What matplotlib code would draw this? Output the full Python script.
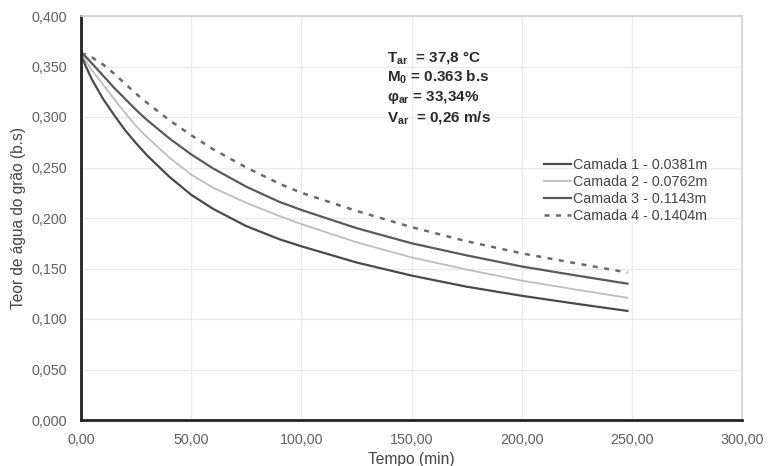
import matplotlib
matplotlib.use("Agg")
import matplotlib.pyplot as plt

plt.rcParams["font.family"] = ["Liberation Sans", "DejaVu Sans"]
plt.rcParams["mathtext.fontset"] = "custom"
plt.rcParams["mathtext.rm"] = "Liberation Sans"
plt.rcParams["mathtext.bf"] = "Liberation Sans:bold"
plt.rcParams["mathtext.it"] = "Liberation Sans:italic"

# Tempo (min)
tempo = [0, 2, 5, 10, 15, 20, 25, 30, 40, 50, 60, 75, 90, 100, 125, 150, 175, 200, 225, 248]

# Teor de agua (b.s) por camada
camada1 = [0.363, 0.351, 0.337, 0.318, 0.302, 0.287, 0.274, 0.262, 0.241, 0.223, 0.209, 0.192,
           0.179, 0.172, 0.156, 0.143, 0.132, 0.123, 0.115, 0.108]
camada2 = [0.363, 0.356, 0.346, 0.332, 0.318, 0.304, 0.291, 0.280, 0.260, 0.243, 0.230, 0.215,
           0.202, 0.194, 0.176, 0.161, 0.149, 0.138, 0.129, 0.121]
camada3 = [0.363, 0.360, 0.353, 0.341, 0.329, 0.318, 0.307, 0.297, 0.279, 0.263, 0.249, 0.231,
           0.216, 0.208, 0.190, 0.175, 0.163, 0.152, 0.143, 0.135]
camada4 = [0.363, 0.362, 0.359, 0.352, 0.343, 0.333, 0.323, 0.314, 0.297, 0.282, 0.268, 0.250,
           0.234, 0.225, 0.207, 0.191, 0.177, 0.165, 0.155, 0.146]

labels = ["Camada 1 - 0.0381m", "Camada 2 - 0.0762m", "Camada 3 - 0.1143m", "Camada 4 - 0.1404m"]

x_ticks = [0, 50, 100, 150, 200, 250, 300]
y_ticks = [0.0, 0.05, 0.1, 0.15, 0.2, 0.25, 0.3, 0.35, 0.4]

fig = plt.figure(figsize=(7.68, 4.66), dpi=100)
ax = fig.add_axes([81 / 768, 46 / 466, 661 / 768, 404 / 466])

ax.plot(tempo, camada1, color="#4a4a4a", lw=1.6, label=labels[0])
ax.plot(tempo, camada2, color="#bdbdbd", lw=1.3, label=labels[1])
ax.plot(tempo, camada3, color="#5a5a5a", lw=1.6, label=labels[2])
ax.plot(tempo, camada4, color="#6a6a6a", lw=1.8, ls=(0, (2.0, 2.6)), label=labels[3])

ax.set_xlim(0, 300)
ax.set_ylim(0, 0.4)
ax.set_xticks(x_ticks)
ax.set_yticks(y_ticks)
ax.set_xticklabels([f"{v:.2f}".replace(".", ",") for v in x_ticks])
ax.set_yticklabels([f"{v:.3f}".replace(".", ",") for v in y_ticks])
ax.tick_params(length=0, labelsize=10.3, labelcolor="#606060")
ax.tick_params(axis="y", pad=10)
ax.tick_params(axis="x", pad=9)

ax.grid(True, color="#ebebeb", lw=1)
ax.set_axisbelow(True)
for s in ["left", "bottom"]:
    ax.spines[s].set_color("#222222")
    ax.spines[s].set_linewidth(2)
for s in ["top", "right"]:
    ax.spines[s].set_color("#d0d0d0")
    ax.spines[s].set_linewidth(1.2)

ax.set_xlabel("Tempo (min)", fontsize=11.2, color="#444444", labelpad=4)
ax.set_ylabel("Teor de água do grão (b.s)", fontsize=11.2, color="#444444", labelpad=4)

info = [
    r"$\mathbf{T}_{\mathbf{ar}}$  = 37,8 °C",
    r"$\mathbf{M}_{\mathbf{0}}$ = 0.363 b.s",
    r"$\mathbf{\varphi}_{\mathbf{ar}}$ = 33,34%",
    r"$\mathbf{V}_{\mathbf{ar}}$  = 0,26 m/s",
]
for i, t in enumerate(info):
    fig.text(387 / 768, 1 - (57 + 20 * i) / 466, t, fontsize=11, fontweight="bold",
             color="#2a2a2a", va="center", ha="left")

ax.legend(loc="upper left", bbox_to_anchor=(450 / 661, 1 - 129 / 404), frameon=False,
          fontsize=10.3, handlelength=1.9, handletextpad=0.15, labelspacing=0.22,
          labelcolor="#444444")

fig.savefig("out.png", dpi=100)
